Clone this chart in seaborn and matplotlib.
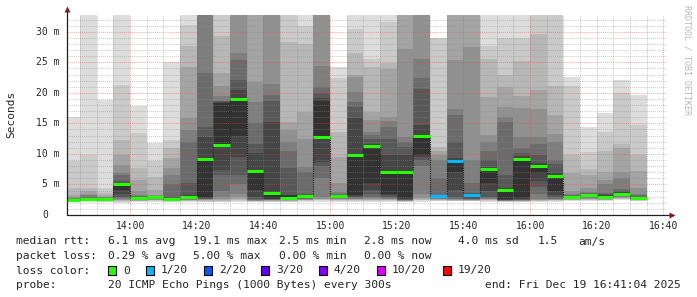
import numpy as np
import pandas as pd
import matplotlib
matplotlib.use("Agg")
import matplotlib.pyplot as plt
from matplotlib.patches import Rectangle
import matplotlib.transforms as mtrans
import seaborn as sns

nan = np.nan
# ---------------- data ----------------
slots = ["13:40", "13:45", "13:50", "13:55", "14:00", "14:05", "14:10", "14:15",
         "14:20", "14:25", "14:30", "14:35", "14:40", "14:45", "14:50", "14:55",
         "15:00", "15:05", "15:10", "15:15", "15:20", "15:25", "15:30", "15:35",
         "15:40", "15:45", "15:50", "15:55", "16:00", "16:05", "16:10", "16:15",
         "16:20", "16:25", "16:30"]

# 20 sorted ping times (ms) per 5-minute slot; values above the top are clipped, nan = lost
pings = [
    [2.15, 2.2, 2.25, 2.3, 2.32, 2.35, 2.37, 2.4, 2.42, 2.45, 2.5, 2.55, 2.6, 2.65, 2.75, 2.9, 3.2, 4.4, 8.9, 16.0],
    [2.2, 2.25, 2.3, 2.35, 2.4, 2.45, 2.5, 2.55, 2.6, 2.65, 2.72, 2.78, 2.85, 2.95, 3.2, 3.5, 3.85, 4.4, 9.8, 40],
    [2.15, 2.2, 2.25, 2.28, 2.3, 2.35, 2.4, 2.45, 2.5, 2.55, 2.6, 2.7, 2.75, 2.8, 2.9, 3.0, 3.2, 3.6, 4.4, 18.9],
    [2.0, 2.2, 2.3, 2.4, 2.5, 2.6, 2.8, 3.0, 3.5, 4.1, 5.1, 5.3, 5.5, 6.6, 6.8, 8.2, 9.8, 12.3, 21.3, 40],
    [2.2, 2.25, 2.3, 2.35, 2.4, 2.45, 2.5, 2.55, 2.6, 2.7, 2.8, 2.9, 3.0, 3.1, 3.3, 3.85, 5.75, 7.65, 13.5, 17.9],
    [2.2, 2.3, 2.4, 2.45, 2.5, 2.6, 2.65, 2.7, 2.8, 2.85, 2.9, 2.95, 3.0, 3.05, 3.15, 3.3, 4.1, 6.3, 8.9, 11.8],
    [2.1, 2.2, 2.3, 2.35, 2.4, 2.45, 2.5, 2.55, 2.6, 2.65, 2.7, 2.85, 3.0, 5.0, 6.6, 7.65, 9.3, 10.9, 12.3, 25.0],
    [2.2, 2.3, 2.35, 2.4, 2.45, 2.5, 2.6, 2.7, 2.8, 2.9, 3.0, 3.3, 5.2, 12.0, 13.9, 15.8, 24.2, 27.7, 31.1, 40],
    [2.1, 2.2, 2.3, 2.4, 2.5, 2.55, 2.6, 2.7, 2.8, 3.0, 9.2, 12.8, 14.4, 23.3, 40, 40, 40, 40, 40, 40],
    [2.1, 2.2, 2.3, 2.4, 2.6, 3.0, 4.0, 6.5, 7.3, 11.5, 18.3, 18.5, 18.6, 18.7, 19.5, 21.2, 23.3, 29.3, 40, 40],
    [2.1, 2.3, 2.5, 2.7, 3.0, 3.5, 5.0, 6.5, 9.5, 13.0, 19.0, 20.5, 22.1, 25.3, 26.6, 40, 40, 40, 40, 40],
    [2.1, 2.2, 2.25, 2.3, 2.35, 2.4, 2.5, 2.7, 3.0, 4.1, 7.2, 10.2, 11.7, 15.0, 18.5, 21.8, 40, 40, 40, 40],
    [2.1, 2.2, 2.3, 2.35, 2.4, 2.45, 2.5, 2.55, 2.6, 2.7, 3.6, 15.2, 18.7, 19.7, 21.4, 40, 40, 40, 40, 40],
    [2.1, 2.2, 2.3, 2.35, 2.4, 2.5, 2.55, 2.6, 2.7, 2.8, 3.2, 3.3, 7.65, 10.4, 12.0, 13.9, 15.2, 28.3, 40, 40],
    [2.2, 2.3, 2.4, 2.45, 2.5, 2.6, 2.7, 2.8, 2.9, 3.05, 3.15, 3.3, 3.5, 7.1, 7.9, 12.5, 16.8, 28.0, 30.9, 40],
    [2.2, 2.4, 2.5, 2.6, 2.7, 2.9, 6.0, 8.0, 8.7, 12.8, 18.7, 19.2, 20.0, 20.9, 24.4, 40, 40, 40, 40, 40],
    [2.2, 2.3, 2.4, 2.5, 2.6, 2.7, 2.8, 2.9, 3.0, 3.1, 3.15, 3.2, 3.3, 3.5, 3.8, 5.2, 9.5, 13.6, 22.5, 24.2],
    [2.2, 2.3, 2.4, 2.5, 2.6, 2.7, 2.8, 2.9, 3.1, 3.3, 9.9, 15.8, 17.7, 18.5, 20.1, 22.6, 23.0, 26.6, 30.4, 40],
    [2.2, 2.3, 2.4, 2.5, 2.6, 2.8, 3.0, 3.5, 4.1, 5.2, 11.4, 11.7, 12.5, 13.1, 13.6, 15.5, 16.9, 24.2, 25.6, 40],
    [2.2, 2.3, 2.4, 2.5, 2.6, 2.7, 2.8, 3.0, 3.2, 3.5, 7.0, 9.9, 12.5, 14.4, 15.4, 16.0, 23.9, 24.9, 31.6, 40],
    [2.1, 2.2, 2.25, 2.3, 2.35, 2.4, 2.45, 2.5, 2.6, 2.8, 7.0, 9.8, 11.2, 12.0, 12.8, 27.2, 40, 40, 40, 40],
    [2.2, 2.4, 2.5, 2.6, 2.8, 3.5, 8.0, 9.0, 9.5, 9.8, 13.0, 14.7, 20.6, 22.5, 25.5, 40, 40, 40, 40, 40],
    [2.2, 2.3, 2.4, 2.5, 2.6, 2.7, 2.8, 2.9, 3.0, 3.1, 3.15, 3.2, 3.3, 6.0, 9.0, 9.8, 10.5, 11.2, 28.9, nan],
    [2.2, 2.25, 2.3, 2.4, 2.5, 2.6, 2.7, 3.0, 4.1, 7.1, 8.9, 9.3, 12.0, 16.3, 17.4, 25.3, 40, 40, 40, nan],
    [2.2, 2.25, 2.3, 2.4, 2.45, 2.5, 2.6, 2.7, 2.8, 3.0, 3.3, 3.45, 3.6, 5.2, 9.0, 27.5, 40, 40, 40, nan],
    [2.2, 2.3, 2.4, 2.5, 2.6, 2.7, 2.8, 3.0, 4.0, 5.2, 7.5, 7.9, 9.0, 10.5, 12.0, 13.1, 19.3, 25.6, 27.7, 40],
    [2.15, 2.2, 2.25, 2.28, 2.3, 2.35, 2.4, 2.45, 2.5, 2.6, 4.1, 4.4, 6.5, 15.2, 16.0, 17.7, 21.0, 23.0, 28.9, 40],
    [2.1, 2.2, 2.25, 2.3, 2.35, 2.4, 2.45, 2.5, 2.6, 2.8, 9.1, 9.6, 10.2, 10.9, 12.8, 17.6, 19.5, 25.2, 29.0, 40],
    [2.2, 2.3, 2.35, 2.4, 2.5, 2.6, 3.5, 4.6, 5.5, 6.8, 8.0, 8.5, 9.8, 11.7, 12.8, 17.4, 20.4, 29.6, 40, 40],
    [2.2, 2.3, 2.4, 2.45, 2.5, 2.6, 2.7, 2.9, 3.3, 4.0, 6.4, 6.8, 8.4, 9.0, 11.9, 13.3, 16.3, 21.2, 40, 40],
    [2.3, 2.4, 2.45, 2.5, 2.6, 2.7, 2.8, 2.85, 2.9, 2.95, 3.0, 3.1, 3.15, 3.25, 3.4, 3.9, 6.9, 9.8, 21.2, 22.6],
    [2.3, 2.4, 2.5, 2.6, 2.7, 2.8, 2.9, 3.0, 3.1, 3.2, 3.3, 3.4, 3.5, 3.6, 3.8, 4.5, 6.5, 7.6, 10.3, 14.4],
    [2.3, 2.4, 2.45, 2.5, 2.6, 2.7, 2.8, 2.85, 2.9, 2.95, 3.0, 3.2, 3.4, 3.6, 5.0, 5.7, 7.0, 10.5, 13.6, 16.7],
    [2.5, 2.6, 2.7, 2.8, 2.9, 3.0, 3.1, 3.2, 3.3, 3.4, 3.5, 3.7, 3.9, 4.3, 6.0, 7.1, 10.9, 11.7, 20.0, 22.1],
    [2.3, 2.35, 2.4, 2.45, 2.5, 2.55, 2.6, 2.65, 2.7, 2.75, 2.8, 2.9, 3.0, 3.2, 3.4, 4.4, 7.2, 9.8, 14.7, 19.7],
]

median = [2.45, 2.6, 2.55, 5.0, 2.75, 2.9, 2.65, 2.9, 9.2, 11.5, 19.0, 7.2, 3.6, 2.8, 3.05,
          12.75, 3.1, 9.9, 11.35, 7.0, 7.0, 13.0, 3.1, 8.9, 3.3, 7.5, 4.1, 9.1, 8.0, 6.4,
          3.0, 3.25, 3.0, 3.5, 2.8]
loss = [0, 0, 0, 0, 0, 0, 0, 0, 0, 0, 0, 0, 0, 0, 0, 0, 0, 0, 0, 0, 0, 0,
        1, 1, 1, 0, 0, 0, 0, 0, 0, 0, 0, 0, 0]

loss_levels = [0, 1, 2, 3, 4, 10, 19]
loss_labels = ["0", "1/20", "2/20", "3/20", "4/20", "10/20", "19/20"]
loss_colors = ["#26ff00", "#00b8ff", "#0059ff", "#5e00ff", "#7e00ff", "#dd00ff", "#ff0000"]

xtick_labels = ["14:00", "14:20", "14:40", "15:00", "15:20", "15:40", "16:00", "16:20", "16:40"]
ytick_values = [0, 5, 10, 15, 20, 25, 30]
ytick_labels = ["0", "5 m", "10 m", "15 m", "20 m", "25 m", "30 m"]

legend_rows = [
    ["median rtt:", "6.1 ms avg", "19.1 ms max", "2.5 ms min", "2.8 ms now", "4.0 ms sd", "1.5", "am/s"],
    ["packet loss:", "0.29 % avg", "5.00 % max", "0.00 % min", "0.00 % now"],
]
probe_text = "20 ICMP Echo Pings (1000 Bytes) every 300s"
end_text = "end: Fri Dec 19 16:41:04 2025"

# ---------------- style ----------------
sns.set_style("white")
plt.rcParams["font.family"] = ["DejaVu Sans Mono", "DejaVu Sans"]

W, H = 697, 297
fig = plt.figure(figsize=(W / 100, H / 100), dpi=100)
fig.patch.set_facecolor("white")
L, R, T, B = 67, 667, 14.67, 215
ax = fig.add_axes([L / W, 1 - B / H, (R - L) / W, (B - T) / H])
ax.set_facecolor("white")


def tmin(s):
    h, m = s.split(":")
    return int(h) * 60 + int(m)


x0 = tmin("16:41") + 4 / 60 - 180
x1 = x0 + 180
ax.set_xlim(x0, x1)
ax.set_ylim(0, 32.8)

# smoke, smokeping style: nested areas ping[i]..ping[N+1-i], darker towards the middle
rows = []
for s, p in zip(slots, pings):
    p = np.asarray(p, float)
    for ib in range(1, 11):
        lo, hi = p[ib - 1], p[20 - ib]
        if np.isnan(lo) or np.isnan(hi):
            continue
        g = int(190 / 10 * (10 - ib)) + 50
        rows.append(dict(x=tmin(s), lo=lo, hi=hi, ib=ib, grey=g))
smoke = pd.DataFrame(rows)
for ib, grp in smoke.groupby("ib"):
    g = grp["grey"].iloc[0] / 255
    ax.bar(grp["x"], grp["hi"] - grp["lo"], bottom=grp["lo"], width=5, align="edge",
           color=(g, g, g), linewidth=0, antialiased=False, zorder=1)

# grid on top of smoke
minor_col = (0.56, 0.56, 0.56, 0.45)
major_col = (0.87, 0.31, 0.31, 0.45)
dots = (0, (1, 1))
for v in range(1, 33):
    ax.axhline(v, color=major_col if v % 5 == 0 else minor_col, lw=0.75, ls=dots, zorder=2)
for t in range(tmin("13:45"), tmin("16:41"), 5):
    ax.axvline(t, color=major_col if t % 20 == 0 else minor_col, lw=0.75, ls=dots, zorder=2)

# median step connectors and loss-coloured medians
xs = [tmin(s) for s in slots]
for i in range(1, len(xs)):
    ax.vlines(xs[i], min(median[i - 1], median[i]), max(median[i - 1], median[i]),
              color="#1a1a1a", lw=0.8, ls=dots, zorder=3)
for x, m, l in zip(xs, median, loss):
    c = loss_colors[max(k for k, lv in enumerate(loss_levels) if lv <= l)]
    ax.hlines(m, x, x + 5, color=c, lw=2.2, zorder=4, capstyle="butt")

# axes
for sp in ax.spines.values():
    sp.set_visible(False)
ax.set_yticks([])
ax.set_xticks([tmin(t) for t in xtick_labels])
ax.set_xticklabels(xtick_labels, fontsize=7)
ax.tick_params(axis="x", length=0, pad=4.5)
ax.plot([0, 1.008], [0, 0], transform=ax.transAxes, color="#1f1f1f", lw=0.9, clip_on=False, zorder=5)
ax.plot([0, 0], [0, 1.025], transform=ax.transAxes, color="#1f1f1f", lw=0.9, clip_on=False, zorder=5)
ax.plot([1.0075], [0], transform=ax.transAxes, marker=">", ms=4, color="#801f1f", clip_on=False, zorder=6, mec="none")
ax.plot([0], [1.029], transform=ax.transAxes, marker="^", ms=4, color="#801f1f", clip_on=False, zorder=6, mec="none")

ytrans = mtrans.blended_transform_factory(ax.transAxes, ax.transData)
for v, lab in zip(ytick_values, ytick_labels):
    xr = (60 - L) / (R - L) if v != 0 else (48 - L) / (R - L)
    ax.text(xr, v, lab, transform=ytrans, ha="right", va="center", fontsize=7)

def px(x, y):
    return x / W, 1 - y / H

fig.text(*px(11, 114), "Seconds", rotation=90, ha="center", va="center", fontsize=8)
fig.text(*px(686.5, 60), "RRDTOOL / TOBI OETIKER", rotation=-90, ha="center", va="center",
         fontsize=6, color="#b8b8b8")

fs = 8.1
row1_x = [16, 108, 193, 279, 364, 458, 538, 578]
for x, t in zip(row1_x, legend_rows[0]):
    fig.text(*px(x, 241.5), t, ha="left", va="center", fontsize=fs)
row2_x = [16, 108, 193, 279, 364]
for x, t in zip(row2_x, legend_rows[1]):
    fig.text(*px(x, 256), t, ha="left", va="center", fontsize=fs)
fig.text(*px(16, 270.5), "loss color:", ha="left", va="center", fontsize=fs)
box_x = [108, 146, 204, 261, 319, 377, 443]
for bx, c, lab in zip(box_x, loss_colors, loss_labels):
    fig.patches.append(Rectangle(px(bx, 275), 8 / W, 9 / H, transform=fig.transFigure,
                                 facecolor=c, edgecolor="black", lw=0.8))
    fig.text(*px(bx + 15, 270.5), lab, ha="left", va="center", fontsize=fs)
fig.text(*px(16, 285), "probe:", ha="left", va="center", fontsize=fs)
fig.text(*px(108, 285), probe_text, ha="left", va="center", fontsize=fs)
fig.text(*px(681, 285), end_text, ha="right", va="center", fontsize=fs)

fig.savefig("out.png", dpi=100, facecolor="white")
